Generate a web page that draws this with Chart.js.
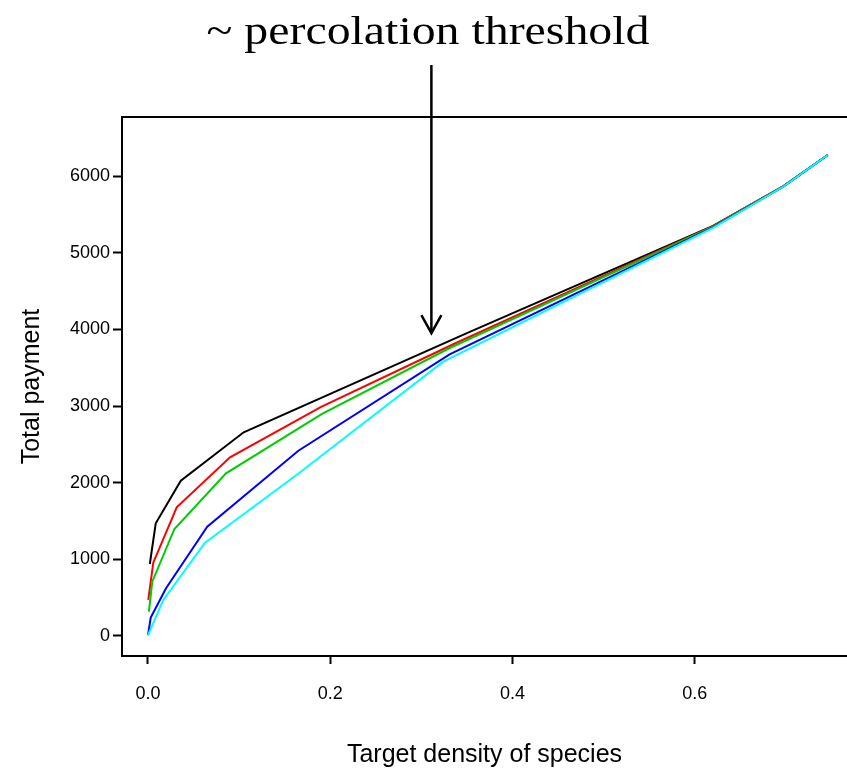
<!DOCTYPE html>
<html>
<head>
<meta charset="utf-8">
<script src="https://cdn.jsdelivr.net/npm/chart.js@4/dist/chart.umd.min.js"></script>
<style>
  html, body { margin: 0; padding: 0; background: #fff; }
  #wrap { width: 847px; height: 769px; position: relative; }
</style>
</head>
<body>
<div id="wrap"><canvas id="c"></canvas></div>
<script>
// ---- data ----
const X_TICKS = [0.0, 0.2, 0.4, 0.6];
const Y_TICKS = [0, 1000, 2000, 3000, 4000, 5000, 6000];

const blackX = [0.002, 0.0085, 0.036, 0.105, 0.35, 0.62, 0.697, 0.746];
const blackY = [939, 1470, 2026, 2657, 3950, 5350, 5865, 6274];

const redX = [0.0003, 0.0058, 0.0315, 0.090, 0.19, 0.335, 0.62, 0.697, 0.746];
const redY = [470, 956, 1678, 2331, 2990, 3806, 5345, 5865, 6274];

const greenX = [0.001, 0.0047, 0.029, 0.0856, 0.191, 0.33, 0.62, 0.697, 0.746];
const greenY = [317, 708, 1396, 2122, 2896, 3750, 5340, 5862, 6274];

const blueX = [0.0, 0.003, 0.0198, 0.065, 0.165, 0.331, 0.62, 0.697, 0.746];
const blueY = [10, 240, 622, 1426, 2417, 3674, 5330, 5860, 6274];

const cyanX = [0.0, 0.0168, 0.0626, 0.163, 0.324, 0.62, 0.697, 0.746];
const cyanY = [10, 470, 1217, 2100, 3578, 5325, 5860, 6274];

const ANNOT_TEXT = "~ percolation threshold";
const ANNOT_X = 0.311;      // data x where arrow points
const ANNOT_TIP_Y = 3950;   // data y of the arrow tip

const X_TITLE = "Target density of species";
const Y_TITLE = "Total payment";

// ---- build ----
function pts(xs, ys) { return xs.map((x, i) => ({ x: x, y: ys[i] })); }
function ds(xs, ys, color, order) {
  return { data: pts(xs, ys), borderColor: color, backgroundColor: color,
           borderWidth: 2, pointRadius: 0, tension: 0, fill: false, order: order };
}

const annotPlugin = {
  id: 'annot',
  afterDraw(chart) {
    const ctx = chart.ctx, a = chart.chartArea;
    const xs = chart.scales.x, ys = chart.scales.y;
    ctx.save();
    // top of the box
    ctx.strokeStyle = '#000'; ctx.lineWidth = 2;
    ctx.beginPath(); ctx.moveTo(a.left - 1, a.top); ctx.lineTo(a.right, a.top); ctx.stroke();
    // annotation text
    ctx.fillStyle = '#000';
    ctx.font = '40px "Liberation Serif", "Times New Roman", serif';
    ctx.textAlign = 'center'; ctx.textBaseline = 'alphabetic';
    const w = ctx.measureText(ANNOT_TEXT).width;
    ctx.save();
    ctx.translate(428, 44);
    ctx.scale(443 / w, 1);
    ctx.fillText(ANNOT_TEXT, 0, 0);
    ctx.restore();
    // arrow
    const ax = xs.getPixelForValue(ANNOT_X);
    const ay = ys.getPixelForValue(ANNOT_TIP_Y);
    ctx.lineWidth = 2.5; ctx.lineCap = 'butt';
    ctx.beginPath(); ctx.moveTo(ax, 65); ctx.lineTo(ax, ay); ctx.stroke();
    ctx.beginPath();
    ctx.moveTo(ax - 10, ay - 18); ctx.lineTo(ax, ay); ctx.lineTo(ax + 10, ay - 18);
    ctx.stroke();
    ctx.restore();
  }
};

const tickFont = { family: '"Liberation Sans", Arial, sans-serif', size: 18 };
const titleFont = { family: '"Liberation Sans", Arial, sans-serif', size: 25, lineHeight: 1 };

new Chart(document.getElementById('c'), {
  type: 'line',
  data: {
    datasets: [
      ds(blackX, blackY, '#000000', 4),
      ds(redX, redY, '#ff0000', 3),
      ds(greenX, greenY, '#00cd00', 2),
      ds(blueX, blueY, '#0000ff', 1),
      ds(cyanX, cyanY, '#00ffff', 0)
    ]
  },
  options: {
    responsive: true,
    maintainAspectRatio: false,
    animation: false,
    layout: { padding: { top: 117, right: 0, left: 0, bottom: 0 } },
    plugins: { legend: { display: false }, tooltip: { enabled: false }, title: { display: false } },
    scales: {
      x: {
        type: 'linear',
        min: -0.02853, max: 0.7671,
        afterBuildTicks: s => { s.ticks = X_TICKS.map(v => ({ value: v })); },
        afterFit: s => { s.height = 113; },
        ticks: { color: '#000', font: tickFont, padding: 19, maxRotation: 0,
                 callback: v => Number(v).toFixed(1) },
        grid: { drawOnChartArea: false, drawTicks: true, tickLength: 8, tickWidth: 2, tickColor: '#000' },
        border: { display: true, color: '#000', width: 2 },
        title: { display: true, text: X_TITLE, color: '#000', font: titleFont, padding: { top: 0, bottom: 1 } }
      },
      y: {
        type: 'linear',
        min: -261, max: 6770,
        afterBuildTicks: s => { s.ticks = Y_TICKS.map(v => ({ value: v })); },
        afterFit: s => { s.width = 122; },
        ticks: { color: '#000', font: tickFont, padding: 3,
                 callback: v => String(v) },
        grid: { drawOnChartArea: false, drawTicks: true, tickLength: 9, tickWidth: 2, tickColor: '#000' },
        border: { display: true, color: '#000', width: 2 },
        title: { display: true, text: Y_TITLE, color: '#000', font: titleFont, padding: { top: 20, bottom: 0 } }
      }
    }
  },
  plugins: [annotPlugin]
});
</script>
</body>
</html>
